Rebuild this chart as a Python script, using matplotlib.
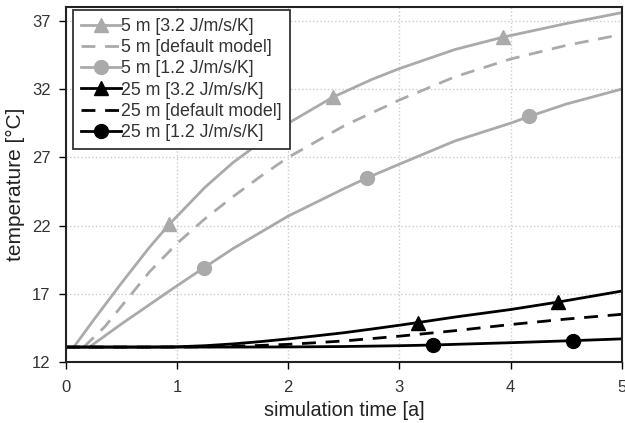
import matplotlib
matplotlib.use("Agg")
import matplotlib.pyplot as plt

plt.rcParams['font.family'] = ['Liberation Sans', 'DejaVu Sans']

# 5 m, 3.2 J/m/s/K
t_g32 = [0.07, 0.25, 0.5, 0.75, 0.93, 1.25, 1.5, 1.75, 2.0, 2.4, 2.75, 3.0, 3.5, 3.93, 4.5, 5.0]
T_g32 = [13.1, 15.1, 17.8, 20.4, 22.1, 24.8, 26.6, 28.1, 29.5, 31.4, 32.7, 33.5, 34.9, 35.8, 36.8, 37.6]
m_g32 = [4, 9, 13]
# 5 m, default model
t_gd = [0.16, 0.35, 0.5, 0.75, 1.0, 1.25, 1.5, 1.75, 2.0, 2.5, 3.0, 3.5, 4.0, 4.5, 5.0]
T_gd = [13.1, 14.6, 16.1, 18.6, 20.7, 22.5, 24.1, 25.6, 27.0, 29.3, 31.2, 32.9, 34.2, 35.2, 36.0]
# 5 m, 1.2 J/m/s/K
t_g12 = [0.21, 0.5, 0.75, 1.0, 1.24, 1.5, 1.75, 2.0, 2.25, 2.5, 2.71, 3.0, 3.5, 4.0, 4.17, 4.5, 5.0]
T_g12 = [13.1, 14.8, 16.2, 17.6, 18.9, 20.3, 21.5, 22.7, 23.7, 24.7, 25.5, 26.5, 28.2, 29.5, 30.0, 30.9, 32.0]
m_g12 = [4, 10, 14]
# 25 m, 3.2 J/m/s/K
t_b32 = [0.0, 0.75, 1.0, 1.25, 1.5, 1.75, 2.0, 2.25, 2.5, 2.75, 3.0, 3.17, 3.5, 4.0, 4.43, 5.0]
T_b32 = [13.1, 13.1, 13.12, 13.2, 13.33, 13.5, 13.7, 13.92, 14.15, 14.42, 14.7, 14.9, 15.3, 15.85, 16.4, 17.2]
m_b32 = [11, 14]
# 25 m, default model
t_bd = [0.0, 1.0, 1.25, 1.5, 1.75, 2.0, 2.25, 2.5, 2.75, 3.0, 3.5, 4.0, 4.5, 5.0]
T_bd = [13.1, 13.1, 13.12, 13.16, 13.22, 13.3, 13.42, 13.55, 13.72, 13.9, 14.3, 14.75, 15.15, 15.5]
# 25 m, 1.2 J/m/s/K
t_b12 = [0.0, 1.5, 2.0, 2.5, 3.0, 3.3, 3.5, 4.0, 4.56, 5.0]
T_b12 = [13.1, 13.1, 13.11, 13.14, 13.2, 13.25, 13.3, 13.42, 13.57, 13.7]
m_b12 = [5, 8]

labels = ["5 m [3.2 J/m/s/K]", "5 m [default model]", "5 m [1.2 J/m/s/K]",
          "25 m [3.2 J/m/s/K]", "25 m [default model]", "25 m [1.2 J/m/s/K]"]

gray = '#aaaaaa'
dash = (0, (5, 3.5))
fig = plt.figure(figsize=(6.25, 4.23), dpi=100)
ax = fig.add_axes([0.1056, 0.144, 0.889, 0.839])

ax.plot(t_g32, T_g32, color=gray, lw=2, marker='^', ms=10, markevery=m_g32, label=labels[0])
ax.plot(t_gd, T_gd, color=gray, lw=2, ls=dash, label=labels[1])
ax.plot(t_g12, T_g12, color=gray, lw=2, marker='o', ms=10, markevery=m_g12, label=labels[2])
ax.plot(t_b32, T_b32, color='black', lw=2, marker='^', ms=10, markevery=m_b32, label=labels[3])
ax.plot(t_bd, T_bd, color='black', lw=2, ls=dash, label=labels[4])
ax.plot(t_b12, T_b12, color='black', lw=2, marker='o', ms=10, markevery=m_b12, label=labels[5])

ax.set_xlim(0, 5)
ax.set_ylim(12, 38)
ax.set_xticks([0, 1, 2, 3, 4, 5])
ax.set_yticks([12, 17, 22, 27, 32, 37])
ax.grid(True, color='#cccccc', ls=':', lw=1)
ax.tick_params(labelsize=12, colors='black', labelcolor='#333333', length=5, width=1,
               direction='out')
ax.tick_params(axis='y', pad=6)
ax.tick_params(axis='x', pad=8)
for s in ax.spines.values():
    s.set_linewidth(1.5)
    s.set_color('#222222')
ax.set_xlabel("simulation time [a]", fontsize=14.3, color='#222222', labelpad=4)
ax.set_ylabel("temperature [°C]", fontsize=15, color='#222222', labelpad=5)

leg = ax.legend(loc='upper left', bbox_to_anchor=(0.007, 1.0), fontsize=12.8,
                fancybox=False, edgecolor='#333333', framealpha=1, handlelength=2.3,
                handletextpad=0.0, labelspacing=0.24, borderpad=0.45, borderaxespad=0.15)
leg.get_frame().set_linewidth(1.3)
for tx in leg.get_texts():
    tx.set_color('#333333')

fig.savefig("out.png", dpi=100)
